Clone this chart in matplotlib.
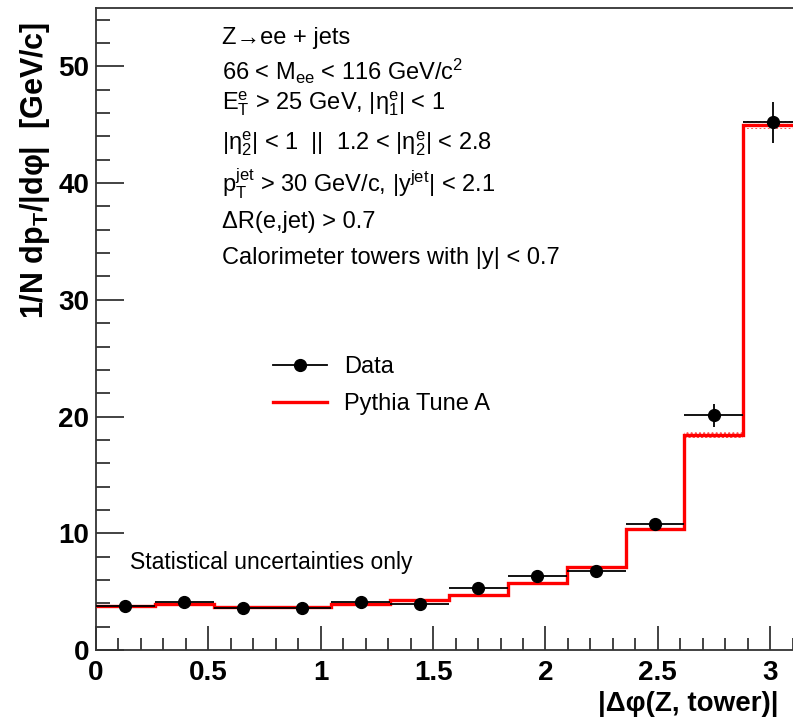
import numpy as np
import matplotlib
matplotlib.use("Agg")
import matplotlib.pyplot as plt
from matplotlib.ticker import MultipleLocator, FuncFormatter
from matplotlib.lines import Line2D

plt.rcParams['font.family'] = ['Liberation Sans', 'DejaVu Sans']
plt.rcParams['mathtext.fontset'] = 'custom'
plt.rcParams['mathtext.rm'] = 'Liberation Sans'
plt.rcParams['mathtext.it'] = 'Liberation Sans:italic'
plt.rcParams['mathtext.bf'] = 'Liberation Sans:bold'
plt.rcParams['mathtext.default'] = 'regular'

# 12 bins in |delta phi| from 0 to pi
n_bins = 12
data_vals = [3.8, 4.1, 3.6, 3.6, 4.1, 3.95, 5.3, 6.3, 6.8, 10.8, 20.1, 45.2]
data_errs = [0.2, 0.2, 0.2, 0.2, 0.2, 0.2, 0.25, 0.3, 0.35, 0.55, 1.0, 1.75]
pythia_vals = [3.8, 3.9, 3.7, 3.7, 3.95, 4.3, 4.7, 5.7, 7.1, 10.4, 18.4, 45.0]
pythia_errs = [0.05, 0.05, 0.05, 0.05, 0.05, 0.05, 0.06, 0.08, 0.1, 0.15, 0.25, 0.35]

edges = np.linspace(0, np.pi, n_bins + 1)
centers = 0.5 * (edges[:-1] + edges[1:])
half_w = 0.5 * np.diff(edges)

W, H = 793, 720
fig = plt.figure(figsize=(W / 100, H / 100), dpi=100)
x0, x1 = 96, 802
y0, y1 = 650, 8
ax = fig.add_axes([x0 / W, (H - y0) / H, (x1 - x0) / W, (y0 - y1) / H])

# Pythia prediction: uncertainty band and step histogram
pv = np.array(pythia_vals)
pe = np.array(pythia_errs)
ax.fill_between(edges, np.append(pv - pe, pv[-1] - pe[-1]),
                np.append(pv + pe, pv[-1] + pe[-1]), step='post',
                facecolor='none', edgecolor='#ff4040', hatch='....', linewidth=0)
ax.stairs(pv, edges, color='#ff0000', linewidth=2.4, baseline=None, zorder=3)

# Data points with bin-width horizontal bars
ax.errorbar(centers, data_vals, xerr=half_w, yerr=data_errs, fmt='o',
            color='black', markersize=8.5, elinewidth=1.3, capsize=0, zorder=4)

ax.set_xlim(0, np.pi)
ax.set_ylim(0, 55)

fmt = FuncFormatter(lambda v, p: f'{v:g}')
ax.xaxis.set_major_locator(MultipleLocator(0.5))
ax.xaxis.set_minor_locator(MultipleLocator(0.1))
ax.yaxis.set_major_locator(MultipleLocator(10))
ax.yaxis.set_minor_locator(MultipleLocator(2))
ax.xaxis.set_major_formatter(fmt)
ax.yaxis.set_major_formatter(fmt)
ax.tick_params(axis='both', which='both', direction='in', top=False,
               right=False, width=1.2, color='#222222')
ax.tick_params(axis='y', which='major', length=20, labelsize=20, pad=5)
ax.tick_params(axis='y', which='minor', length=10)
ax.tick_params(axis='x', which='major', length=17, labelsize=20, pad=7)
ax.tick_params(axis='x', which='minor', length=9)
for lab in ax.get_xticklabels() + ax.get_yticklabels():
    lab.set_fontweight('bold')

for s in ax.spines.values():
    s.set_linewidth(1.3)
    s.set_color('#333333')

fig.text(778 / W, 1 - 704 / H, '|Δφ(Z, tower)|', ha='right', va='center',
         fontsize=20, fontweight='bold')
fig.text(35 / W, 1 - 22 / H, r'1/N dp$_{\mathbf{T}}$/|dφ|  [GeV/c]', rotation=90,
         ha='center', va='top', fontsize=22, fontweight='bold')

# Selection cuts
cuts = [
    'Z→ee + jets',
    r'66 < M$_{ee}$ < 116 GeV/c$^{2}$',
    r'E$_{T}^{e}$ > 25 GeV, |η$_{1}^{e}$| < 1',
    r'|η$_{2}^{e}$| < 1  ||  1.2 < |η$_{2}^{e}$| < 2.8',
    r'p$_{T}^{jet}$ > 30 GeV/c, |y$^{jet}$| < 2.1',
    'ΔR(e,jet) > 0.7',
    'Calorimeter towers with |y| < 0.7',
]
ys = [38, 71, 104, 144, 184, 222, 258]
for t, yy in zip(cuts, ys):
    fig.text(222 / W, 1 - yy / H, t, ha='left', va='center', fontsize=17)

fig.text(130 / W, 1 - 562 / H, 'Statistical uncertainties only',
         ha='left', va='center', fontsize=16.5)

handles = [Line2D([], [], color='black', marker='o', markersize=8.5, linewidth=1.3),
           Line2D([], [], color='#ff0000', linewidth=2.4)]
ax.legend(handles, ['Data', 'Pythia Tune A'], loc='upper left',
          bbox_to_anchor=((273 - x0) / (x1 - x0), 1 - (356 - y1) / (y0 - y1)),
          frameon=False, fontsize=17, handlelength=2.3, labelspacing=0.63,
          handletextpad=0.72, borderpad=0, borderaxespad=0)

fig.savefig('out.png', dpi=100)
